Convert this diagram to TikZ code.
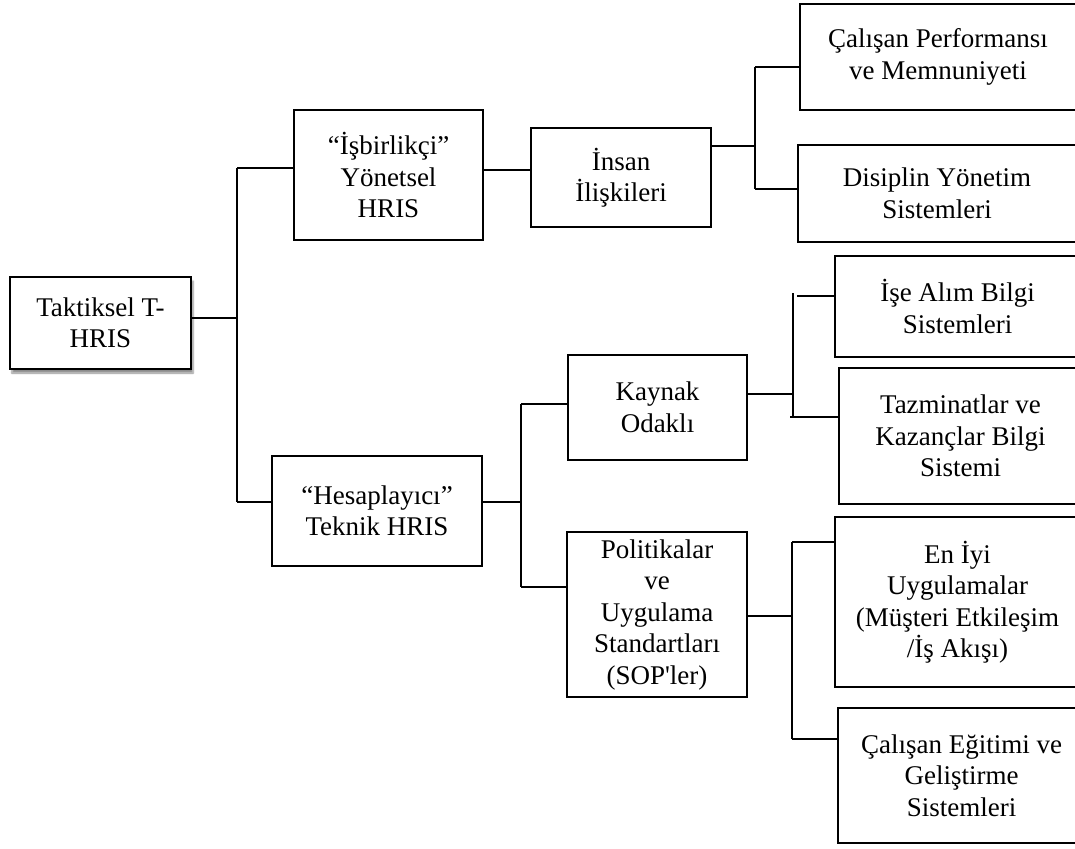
\documentclass[tikz,border=0pt]{standalone}
\usepackage{fontspec}
\setmainfont{Liberation Serif}
\usetikzlibrary{shadows.blur}
\begin{document}
\begin{tikzpicture}[x=1pt,y=-1pt,
  box/.style={draw=black,line width=1.8pt,fill=white,inner sep=0pt,align=center,
    font=\fontsize{27}{31.5}\selectfont},
  link/.style={draw=black,line width=1.8pt}]
\useasboundingbox (0,0) rectangle (1075,848);
\clip (0,0) rectangle (1075,848);
% boxes
\node[box,minimum width=181pt,minimum height=92pt,
  blur shadow={shadow xshift=2pt,shadow yshift=-4pt,shadow blur steps=6,shadow opacity=45}]
  (root) at (100.5,323) {Taktiksel T-\\HRIS};
\node[box,minimum width=189pt,minimum height=130pt] (isb) at (388.5,175) {“İşbirlikçi”\\Yönetsel\\HRIS};
\node[box,minimum width=180pt,minimum height=99pt] (insan) at (621,177.5) {İnsan\\İlişkileri};
\node[box,minimum width=210pt,minimum height=110pt] (hes) at (377,511) {“Hesaplayıcı”\\Teknik HRIS};
\node[box,minimum width=179pt,minimum height=105pt] (kay) at (657.5,407.5) {Kaynak\\Odaklı};
\node[box,minimum width=180pt,minimum height=165pt] (pol) at (657,614.5) {Politikalar\\ve\\Uygulama\\Standartları\\(SOP\textquotesingle ler)};
\node[box,minimum width=276pt,minimum height=106pt] (cp) at (938,57) {Çalışan Performansı\\ve Memnuniyeti};
\node[box,minimum width=278pt,minimum height=97pt] (dis) at (937,193.5) {Disiplin Yönetim\\Sistemleri};
\node[box,minimum width=245pt,minimum height=101pt] (ise) at (957.5,306.5) {İşe Alım Bilgi\\Sistemleri};
\node[box,minimum width=243pt,minimum height=136pt] (taz) at (960.5,436) {Tazminatlar ve\\Kazançlar Bilgi\\Sistemi};
\node[box,minimum width=245pt,minimum height=170pt] (eni) at (957.5,602) {En İyi\\Uygulamalar\\(Müşteri Etkileşim\\/İş Akışı)};
\node[box,minimum width=247pt,minimum height=135pt] (egi) at (961.5,775.5) {Çalışan Eğitimi ve\\Geliştirme\\Sistemleri};
% junction coordinates
\coordinate (j1) at (237,318);
\coordinate (j1a) at (237,168);
\coordinate (j1b) at (237,502);
\coordinate (j2) at (755,146);
\coordinate (j2a) at (755,67);
\coordinate (j2b) at (755,189);
\coordinate (j3) at (521,502);
\coordinate (j3a) at (521,404);
\coordinate (j3b) at (521,587);
\coordinate (j4) at (793,394);
\coordinate (j4a) at (793,293);
\coordinate (j4t) at (797,296);
\coordinate (j4b) at (790,417);
\coordinate (j5) at (792,616);
\coordinate (j5a) at (792,542);
\coordinate (j5b) at (792,739);
% connectors
\draw[link] (root.east |- j1) -- (j1);
\draw[link] (j1a) -- (j1b);
\draw[link] (j1a) -- (j1a -| isb.west);
\draw[link] (j1b) -- (j1b -| hes.west);
\draw[link] (isb.east |- 0,170) -- (insan.west |- 0,170);
\draw[link] (insan.east |- j2) -- (j2);
\draw[link] (j2a) -- (j2b);
\draw[link] (j2a) -- (j2a -| cp.west);
\draw[link] (j2b) -- (j2b -| dis.west);
\draw[link] (hes.east |- j3) -- (j3);
\draw[link] (j3a) -- (j3b);
\draw[link] (j3a) -- (j3a -| kay.west);
\draw[link] (j3b) -- (j3b -| pol.west);
\draw[link] (kay.east |- j4) -- (j4);
\draw[link] (j4a) -- (j4 |- j4b);
\draw[link] (j4t) -- (j4t -| ise.west);
\draw[link] (j4b) -- (j4b -| taz.west);
\draw[link] (pol.east |- j5) -- (j5);
\draw[link] (j5a) -- (j5b);
\draw[link] (j5a) -- (j5a -| eni.west);
\draw[link] (j5b) -- (j5b -| egi.west);
\end{tikzpicture}
\end{document}
